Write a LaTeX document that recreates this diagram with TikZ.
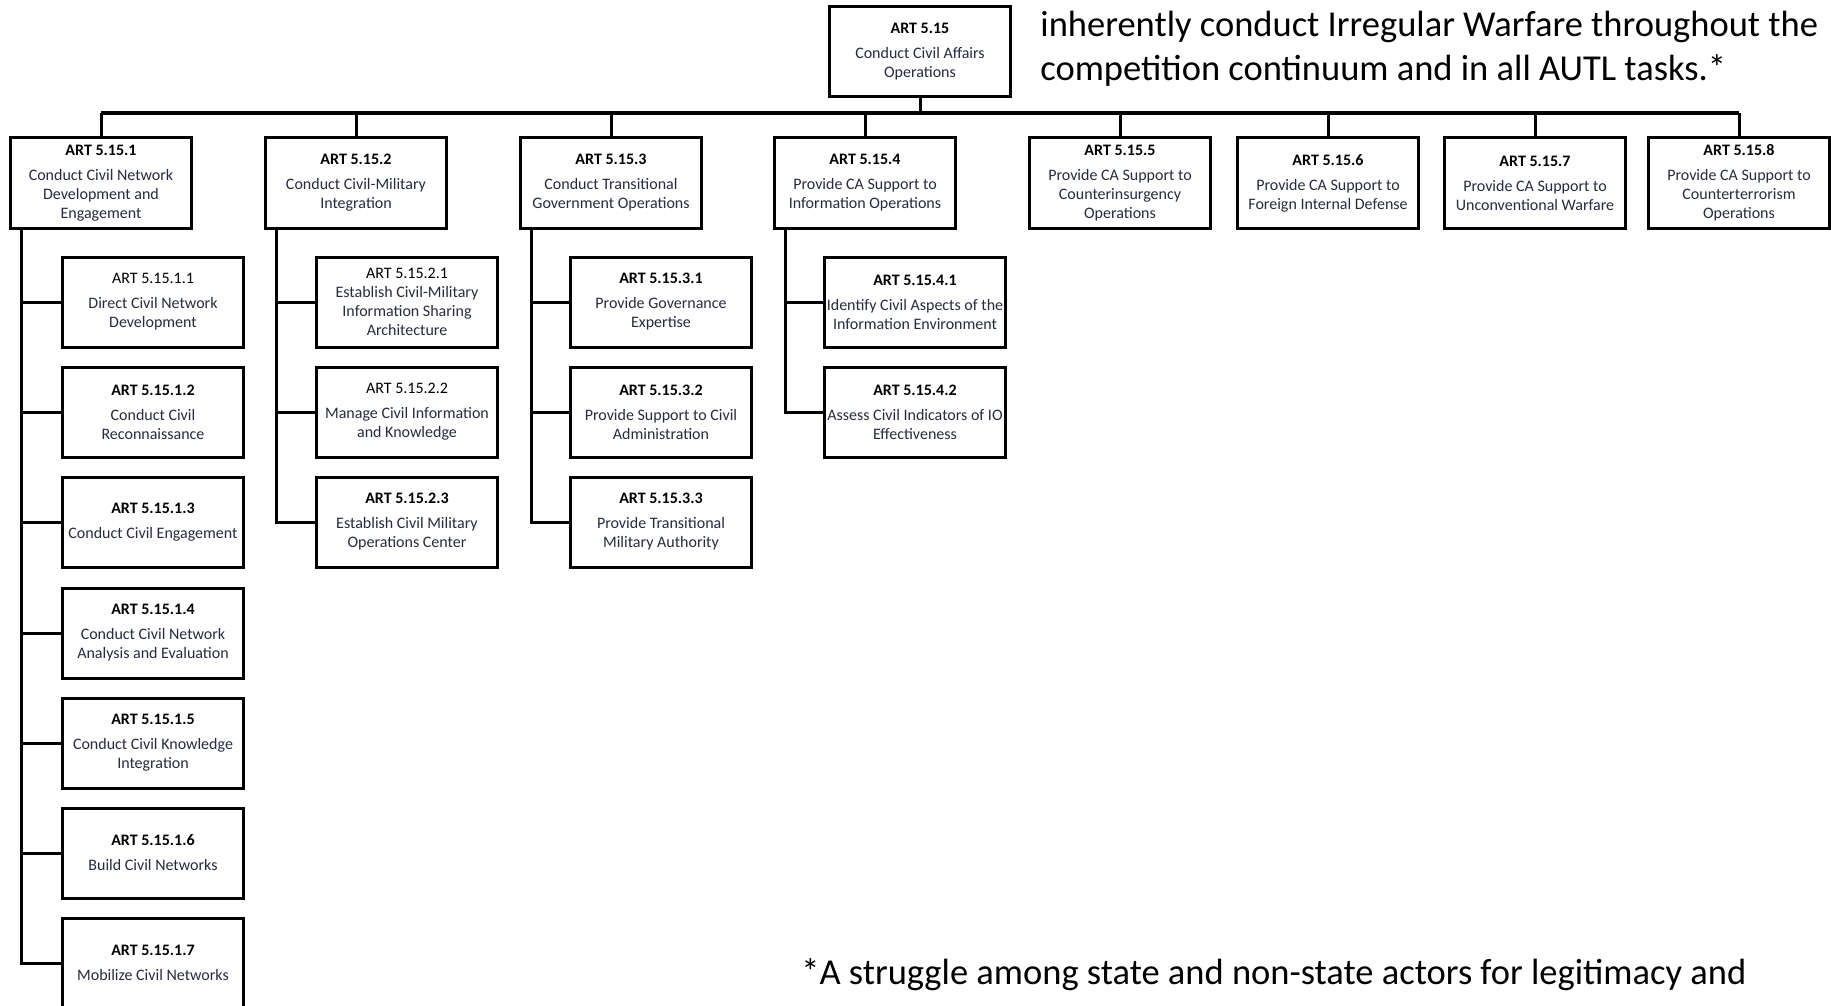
\documentclass[tikz,border=0pt]{standalone}
\usepackage{fontspec}
\setmainfont{Carlito}
\usepackage{tikz}

\definecolor{bodytxt}{RGB}{38,42,66}
\newcommand{\artb}[1]{\textcolor{black}{\textbf{ART #1}}\\[3pt]}
\newcommand{\artn}[1]{\textcolor{black}{ART #1}\\[3pt]}

\begin{document}
\begin{tikzpicture}[x=0.5pt,y=-0.5pt,
  box/.style={draw,line width=1.5pt,minimum width=90.5pt,minimum height=45pt,
    align=center,inner sep=1pt,text=bodytxt,font=\fontsize{8}{9.5}\selectfont},
  link/.style={line width=1.5pt},
  bar/.style={line width=2pt},
  big/.style={inner sep=0pt,anchor=west,align=left,font=\fontsize{18.25}{22}\selectfont}]

  \useasboundingbox (0,0) rectangle (1831,1006);

  \node[box] (a) at (920,52) {\artb{5.15}Conduct Civil Affairs\\Operations};

  \node[box] (a1) at (101,183) {\artb{5.15.1}Conduct Civil Network\\Development and\\Engagement};
  \node[box] (a2) at (356,183) {\artb{5.15.2}Conduct Civil-Military\\Integration};
  \node[box] (a3) at (611,183) {\artb{5.15.3}Conduct Transitional\\Government Operations};
  \node[box] (a4) at (865,183) {\artb{5.15.4}Provide CA Support to\\Information Operations};
  \node[box] (a5) at (1120,183) {\artb{5.15.5}Provide CA Support to\\Counterinsurgency\\Operations};
  \node[box] (a6) at (1328,183) {\artb{5.15.6}Provide CA Support to\\Foreign Internal Defense};
  \node[box] (a7) at (1535,183) {\artb{5.15.7}Provide CA Support to\\Unconventional Warfare};
  \node[box] (a8) at (1739,183) {\artb{5.15.8}Provide CA Support to\\Counterterrorism\\Operations};

  \node[box] (a11) at (153,302) {\artn{5.15.1.1}Direct Civil Network\\Development};
  \node[box] (a12) at (153,412) {\artb{5.15.1.2}Conduct Civil\\Reconnaissance};
  \node[box] (a13) at (153,522) {\artb{5.15.1.3}Conduct Civil Engagement};
  \node[box] (a14) at (153,633) {\artb{5.15.1.4}Conduct Civil Network\\Analysis and Evaluation};
  \node[box] (a15) at (153,743) {\artb{5.15.1.5}Conduct Civil Knowledge\\Integration};
  \node[box] (a16) at (153,853) {\artb{5.15.1.6}Build Civil Networks};
  \node[box] (a17) at (153,963) {\artb{5.15.1.7}Mobilize Civil Networks};

  \node[box] (a21) at (407,302) {\textcolor{black}{ART 5.15.2.1}\\Establish Civil-Military\\Information Sharing\\Architecture};
  \node[box] (a22) at (407,412) {\artn{5.15.2.2}Manage Civil Information\\and Knowledge};
  \node[box] (a23) at (407,522) {\artb{5.15.2.3}Establish Civil Military\\Operations Center};

  \node[box] (a31) at (661,302) {\artb{5.15.3.1}Provide Governance\\Expertise};
  \node[box] (a32) at (661,412) {\artb{5.15.3.2}Provide Support to Civil\\Administration};
  \node[box] (a33) at (661,522) {\artb{5.15.3.3}Provide Transitional\\Military Authority};

  \node[box] (a41) at (915,302) {\artb{5.15.4.1}Identify Civil Aspects of the\\Information Environment};
  \node[box] (a42) at (915,412) {\artb{5.15.4.2}Assess Civil Indicators of IO\\Effectiveness};

  \coordinate (bus) at (0,113);
  \draw[link] (a.south) -- (a.south |- bus);
  \draw[bar] (a1 |- bus) -- (a8 |- bus);
  \foreach \n in {1,...,8}
    \draw[link] (a\n |- bus) -- (a\n.north);

  \foreach \c/\last in {1/7,2/3,3/3,4/2} {
    \coordinate (s\c) at ([xshift=6pt]a\c.south west);
    \draw[link] (s\c) |- (a\c\last.west);
    \foreach \i in {1,...,\last}
      \draw[link] (s\c |- a\c\i.west) -- (a\c\i.west);
  }

  \node[big] (note) at (1040,49) {inherently conduct Irregular Warfare throughout the\\competition continuum and in all AUTL tasks.*};
  \node[big] (foot) at (801,975) {*A struggle among state and non-state actors for legitimacy and};

\end{tikzpicture}
\end{document}
